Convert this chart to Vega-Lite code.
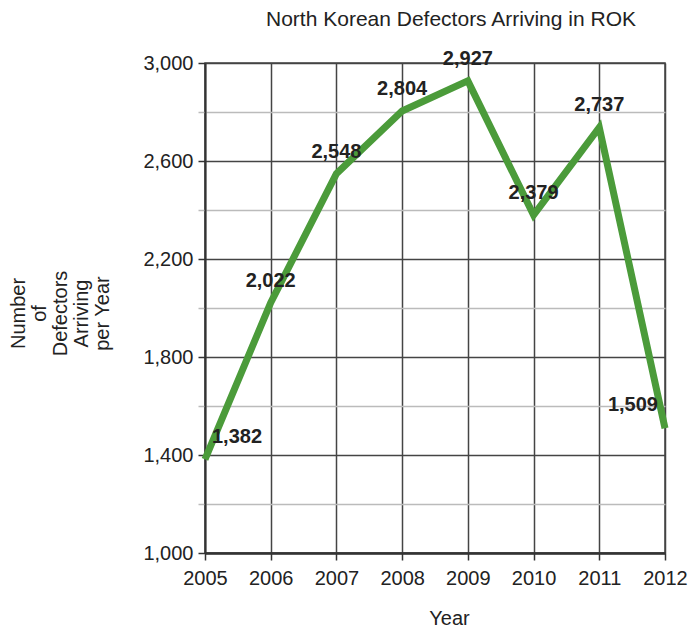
{
  "$schema": "https://vega.github.io/schema/vega-lite/v6.json",
  "width": 460,
  "height": 490,
  "autosize": "none",
  "padding": {"left": 205, "top": 63, "right": 23, "bottom": 75},
  "background": "white",
  "config": {
    "font": "Liberation Sans",
    "view": {"stroke": "#444", "strokeWidth": 1.5}
  },
  "title": {
    "text": "North Korean Defectors Arriving in ROK",
    "fontSize": 21,
    "fontWeight": "normal",
    "color": "#222",
    "offset": 19,
    "dx": 16
  },
  "data": {
    "values": [
      {"year": 2005, "count": 1382},
      {"year": 2006, "count": 2022},
      {"year": 2007, "count": 2548},
      {"year": 2008, "count": 2804},
      {"year": 2009, "count": 2927},
      {"year": 2010, "count": 2379},
      {"year": 2011, "count": 2737},
      {"year": 2012, "count": 1509}
    ]
  },
  "encoding": {
    "x": {
      "field": "year",
      "type": "quantitative",
      "scale": {"domain": [2005, 2012], "nice": false, "zero": false},
      "axis": {
        "title": "Year",
        "values": [2005, 2006, 2007, 2008, 2009, 2010, 2011, 2012],
        "format": "d",
        "labelFontSize": 20,
        "labelColor": "#222",
        "labelPadding": 8,
        "labelOverlap": false,
        "labelBound": false,
        "labelFlush": false,
        "tickSize": 7,
        "tickColor": "#333",
        "tickWidth": 1.5,
        "domainColor": "#333",
        "domainWidth": 2.5,
        "grid": true,
        "gridColor": "#444",
        "gridWidth": 1.5,
        "gridOpacity": 1,
        "titleFontSize": 20,
        "titleFontWeight": "normal",
        "titleColor": "#222",
        "titlePadding": 20,
        "titleX": 244
      }
    },
    "y": {
      "field": "count",
      "type": "quantitative",
      "scale": {"domain": [1000, 3000], "nice": false, "zero": false},
      "axis": {
        "title": ["Number", "of", "Defectors", "Arriving", "per Year"],
        "values": [1000, 1200, 1400, 1600, 1800, 2000, 2200, 2400, 2600, 2800, 3000],
        "labelExpr": "(datum.value - 1000) % 400 === 200 ? '' : datum.label",
        "labelFontSize": 20,
        "labelColor": "#222",
        "labelPadding": 5,
        "labelOverlap": false,
        "labelBound": false,
        "labelFlush": false,
        "tickSize": 7,
        "tickColor": {"condition": {"test": "(datum.value - 1000) % 400 === 200", "value": "#bbb"}, "value": "#333"},
        "tickWidth": 1.5,
        "domainColor": "#333",
        "domainWidth": 2,
        "grid": true,
        "gridColor": {"condition": {"test": "(datum.value - 1000) % 400 === 200", "value": "#bbb"}, "value": "#444"},
        "gridWidth": 1.5,
        "gridOpacity": 1,
        "titleFontSize": 20,
        "titleFontWeight": "normal",
        "titleColor": "#222",
        "titleAngle": -90,
        "titleAlign": "center",
        "titleBaseline": "top",
        "titleLineHeight": 21,
        "titleX": -197,
        "titleY": 250
      }
    }
  },
  "layer": [
    {
      "mark": {"type": "line", "color": "#4b9b3a", "strokeWidth": 7, "strokeJoin": "miter"}
    },
    {
      "transform": [{"filter": "datum.year > 2005 && datum.year < 2012"}],
      "mark": {"type": "text", "fontSize": 20, "fontWeight": "bold", "color": "#222", "baseline": "middle", "dy": -22},
      "encoding": {"text": {"field": "count", "type": "quantitative", "format": ","}}
    },
    {
      "transform": [{"filter": "datum.year === 2005"}],
      "mark": {"type": "text", "fontSize": 20, "fontWeight": "bold", "color": "#222", "baseline": "middle", "dy": -22, "dx": 7, "align": "left"},
      "encoding": {"text": {"field": "count", "type": "quantitative", "format": ","}}
    },
    {
      "transform": [{"filter": "datum.year === 2012"}],
      "mark": {"type": "text", "fontSize": 20, "fontWeight": "bold", "color": "#222", "baseline": "middle", "dy": -23, "dx": -7, "align": "right"},
      "encoding": {"text": {"field": "count", "type": "quantitative", "format": ","}}
    }
  ]
}
